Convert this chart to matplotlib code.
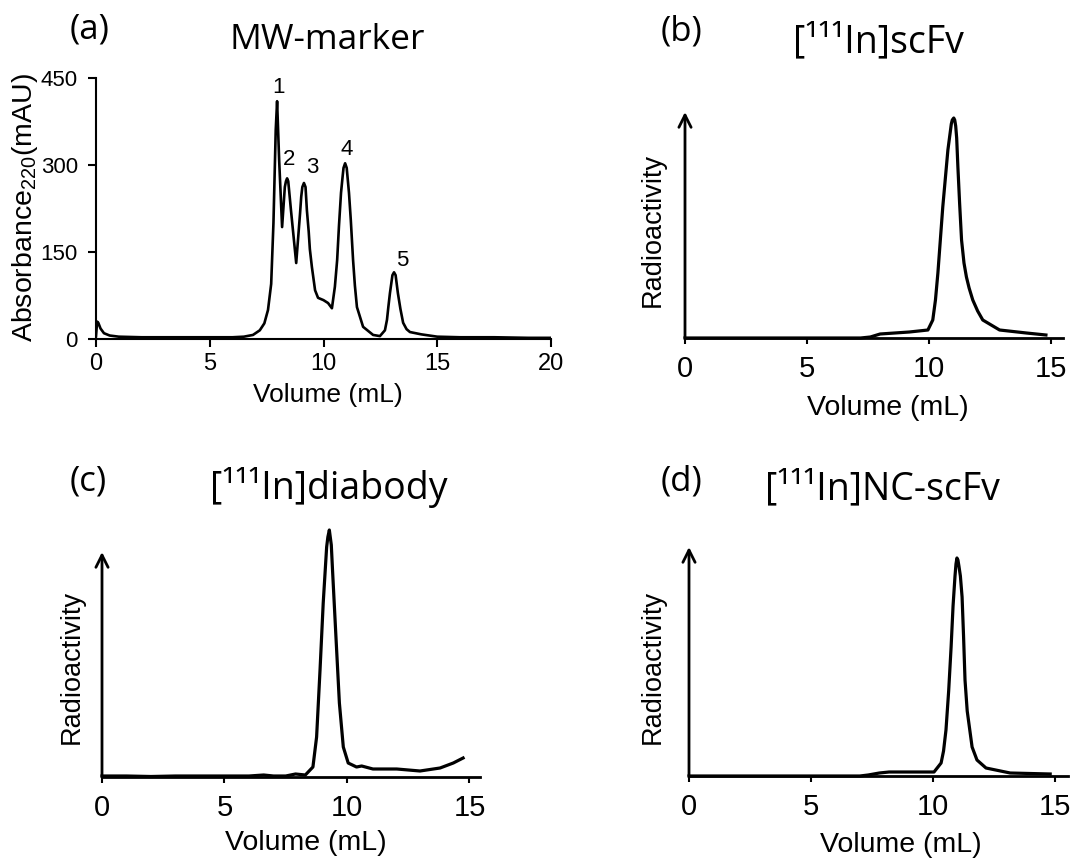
import matplotlib
matplotlib.use("Agg")
import matplotlib.pyplot as plt

# (a) MW-marker
vol_a = [0, 0.05, 0.1, 0.2, 0.35, 0.6, 1.0, 2, 3, 4, 5, 6, 6.5, 6.9, 7.2, 7.4,
         7.56, 7.7, 7.8, 7.9, 7.96, 8.05, 8.18, 8.3, 8.35, 8.4, 8.45, 8.57, 8.8,
         8.97, 9.02, 9.07, 9.14, 9.21, 9.27, 9.35, 9.4, 9.49, 9.63, 9.76, 10.0,
         10.2, 10.37, 10.5, 10.6, 10.68, 10.77, 10.84, 10.88, 10.95, 11.02, 11.12,
         11.2, 11.3, 11.38, 11.47, 11.74, 12.18, 12.48, 12.7, 12.79, 12.85, 12.92,
         13.03, 13.1, 13.17, 13.27, 13.38, 13.5, 13.65, 13.8, 14.3, 15, 16, 17.5,
         19, 20]
abs_a = [5, 30, 28, 18, 10, 6, 4, 3, 3, 3, 3, 3, 4, 7, 15, 27,
         50, 95, 200, 360, 410, 309, 193, 262, 272, 277, 272, 222, 131,
         217, 245, 262, 269, 262, 222, 185, 155, 124, 84, 71, 67,
         62, 53, 90, 136, 195, 252, 280, 295, 303, 295, 252,
         205, 136, 92, 55, 21, 7, 5, 15, 33, 55, 79,
         110, 115, 110, 79, 52, 28, 17, 12, 8, 4, 3, 3,
         2, 2]
peak_num = ["1", "2", "3", "4", "5"]
peak_x = [8.04, 8.48, 9.49, 11.03, 13.45]
peak_y = [433, 309, 295, 326, 136]

# (b) scFv
vol_b = [0, 7.2, 7.6, 8.0, 9.2, 9.96, 10.16, 10.27, 10.37, 10.57, 10.78, 10.92,
         10.96, 11.02, 11.06, 11.1, 11.14, 11.19, 11.26, 11.34, 11.44, 11.54,
         11.65, 11.8, 12.0, 12.21, 12.9, 14.0, 14.8]
rad_b = [0, 0, 1, 4, 6, 8, 18, 38, 65, 131, 188, 214,
         218, 220, 218, 212, 200, 171, 135, 98, 75, 61,
         50, 38, 27, 18, 8, 5, 3]

# (c) diabody
vol_c = [0, 1, 2, 3, 4, 5, 6, 6.6, 7.0, 7.5, 7.9, 8.3, 8.61, 8.76, 8.9, 9.03,
         9.17, 9.22, 9.28, 9.36, 9.41, 9.55, 9.69, 9.85, 10.05, 10.39, 10.6,
         11.06, 12.03, 12.98, 13.8, 14.34, 14.74]
rad_c = [1, 1, 0.5, 1, 1, 1, 1, 2, 1, 1, 3, 2, 10, 40, 107, 174,
         230, 240, 247, 232, 207, 140, 74, 30, 14, 10, 11,
         8, 8, 6, 9, 14, 19]

# (d) NC-scFv
vol_d = [0, 7.0, 7.34, 7.8, 8.2, 9.0, 10.04, 10.33, 10.43, 10.53, 10.64, 10.74,
         10.82, 10.9, 10.94, 10.98, 11.02, 11.06, 11.12, 11.19, 11.25, 11.31,
         11.4, 11.6, 11.8, 12.17, 13.16, 14.8]
rad_d = [0, 0, 1, 3, 4, 4, 4, 13, 25, 46, 85, 129,
         170, 200, 212, 218, 216, 210, 200, 179, 140, 96,
         65, 29, 16, 8, 3, 2]

W, H = 1086, 859
fig = plt.figure(figsize=(W / 100, H / 100), dpi=100)

def box(x0, x1, ytop, ybot):
    # pixel box -> figure fraction
    return [x0 / W, (H - ybot) / H, (x1 - x0) / W, (ybot - ytop) / H]

tfont = "Open Sans"
afont = "Liberation Sans"
plt.rcParams["mathtext.fontset"] = "custom"
plt.rcParams["mathtext.rm"] = afont

# ---- (a)
ax = fig.add_axes(box(96, 551, 78, 339))
ax.plot(vol_a, abs_a, color="black", lw=1.9)
ax.set_xlim(0, 20)
ax.set_ylim(0, 450)
ax.set_xticks([0, 5, 10, 15, 20])
ax.set_yticks([0, 150, 300, 450])
for s in ["top", "right"]:
    ax.spines[s].set_visible(False)
for s in ["left", "bottom"]:
    ax.spines[s].set_linewidth(1.5)
ax.tick_params(direction="out", length=6, width=1.5)
ax.tick_params(axis="y", pad=7)
ax.tick_params(axis="x", pad=4)
for lab in ax.get_xticklabels():
    lab.set_fontfamily(afont)
    lab.set_fontsize(17)
for lab in ax.get_yticklabels():
    lab.set_fontfamily(afont)
    lab.set_fontsize(16)
ax.set_xlabel("Volume (mL)", fontfamily=afont, fontsize=19)
ax.xaxis.set_label_coords(0.51, -0.215)
ax.xaxis.label.set_va("center")
ax.set_ylabel(r"Absorbance$_{220}$(mAU)", fontfamily=afont, fontsize=20.5)
ax.yaxis.set_label_coords(-0.156, 0.502)
ax.yaxis.label.set_va("center")
for t, x, y in zip(peak_num, peak_x, peak_y):
    ax.text(x, y, t, fontfamily=afont, fontsize=16, ha="center", va="center")
fig.text(90 / W, 1 - 30 / H, "(a)", fontfamily=tfont, fontsize=25, ha="center", va="center")
fig.text(327 / W, 1 - 40 / H, "MW-marker", fontfamily=tfont, fontsize=25.5, ha="center", va="center")

# ---- (b)-(d)
panels = [
    (vol_b, rad_b, box(685, 1063, 112, 338), 15.5, 226, "(b)", "[¹¹¹In]scFv",
     (681, 32), (878, 42), (0.537, -0.31), (-0.085, 0.48)),
    (vol_c, rad_c, box(102, 480, 552, 777), 15.43, 225, "(c)", "[¹¹¹In]diabody",
     (88, 481), (329, 487), (0.54, -0.293), (-0.079, 0.49)),
    (vol_d, rad_d, box(689, 1068, 547, 776), 15.53, 229, "(d)", "[¹¹¹In]NC-scFv",
     (681, 482), (882, 489), (0.559, -0.3), (-0.095, 0.476)),
]
for vol, rad, rect, xmax, ymax, tag, title, tagpos, titlepos, xl, yl in panels:
    ax = fig.add_axes(rect)
    ax.plot(vol, rad, color="black", lw=2.3, clip_on=False)
    ax.set_xlim(0, xmax)
    ax.set_ylim(0, ymax)
    ax.set_xticks([0, 5, 10, 15])
    ax.set_yticks([])
    for s in ["top", "right", "left"]:
        ax.spines[s].set_visible(False)
    ax.spines["bottom"].set_linewidth(2)
    ax.tick_params(axis="x", direction="out", length=4, width=1.5, pad=8)
    for lab in ax.get_xticklabels():
        lab.set_fontfamily(afont)
        lab.set_fontsize(21)
    ax.annotate("", xy=(0, 1), xytext=(0, 0), xycoords="axes fraction",
                arrowprops=dict(arrowstyle="->", lw=2, color="black",
                                mutation_scale=22, shrinkA=0, shrinkB=0))
    ax.set_xlabel("Volume (mL)", fontfamily=afont, fontsize=20.5)
    ax.xaxis.set_label_coords(*xl)
    ax.xaxis.label.set_va("center")
    ax.set_ylabel("Radioactivity", fontfamily=afont, fontsize=19.5)
    ax.yaxis.set_label_coords(*yl)
    ax.yaxis.label.set_va("center")
    fig.text(tagpos[0] / W, 1 - tagpos[1] / H, tag, fontfamily=tfont, fontsize=25,
             ha="center", va="center")
    fig.text(titlepos[0] / W, 1 - titlepos[1] / H, title, fontfamily=tfont,
             fontsize=27, ha="center", va="center")

fig.savefig("out.png", dpi=100)
